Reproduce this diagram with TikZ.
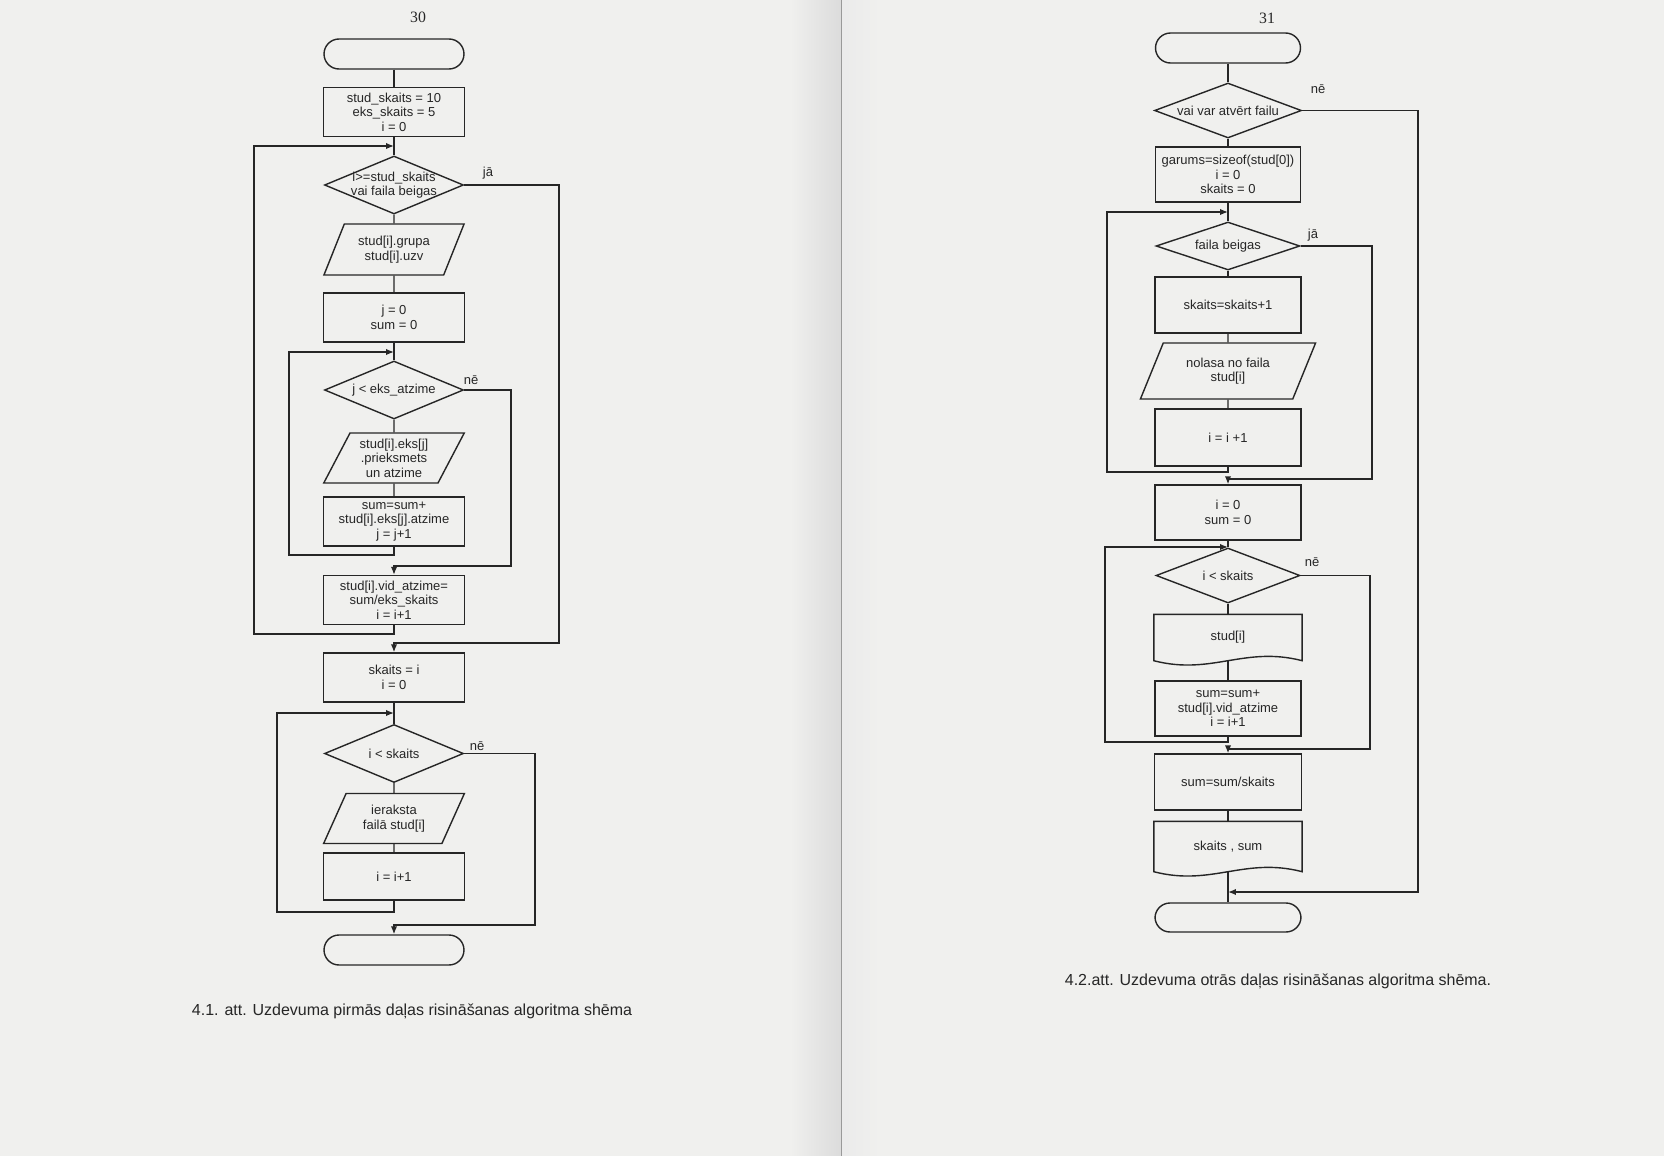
\documentclass[tikz,border=0pt]{standalone}
\usepackage{fontspec}
\setmainfont{Liberation Sans}
\newfontfamily\pagenumfont{Liberation Serif}
\usetikzlibrary{shapes.geometric,arrows.meta,positioning}
\newcommand\flowfont{\fontsize{7.4pt}{8.3pt}\selectfont}
\newcommand\capfont{\fontsize{9.1pt}{10.5pt}\selectfont}
\definecolor{paper}{RGB}{240,240,238}

\begin{document}
\begin{tikzpicture}[x=0.02cm, y=-0.02cm, line width=0.8pt, color=black!85,
  term/.style={draw, rectangle, rounded corners=0.3cm, minimum width=2.8cm, minimum height=0.6cm},
  proc/.style={draw, rectangle, minimum width=2.82cm, minimum height=0.98cm, align=center, font=\flowfont, inner sep=1pt},
  dec/.style={draw, diamond, aspect=2.4, inner sep=-1.5pt, minimum width=2.78cm, minimum height=1.16cm, align=center, font=\flowfont},
  io/.style={draw, trapezium, trapezium left angle=63, trapezium right angle=117, trapezium stretches=true, minimum width=2.82cm, minimum height=1cm, align=center, font=\flowfont, inner sep=1pt},
  docu/.style={rectangle, minimum width=2.94cm, minimum height=0.9cm, align=center, font=\flowfont},
  lbl/.style={font=\flowfont, inner sep=0pt},
  >={Latex[length=4.5pt,width=3.6pt]}]
\useasboundingbox (0,0) rectangle (1664,1156);
\fill[paper] (0,0) rectangle (1664,1156);
\shade[left color=paper, right color=black!14] (790,0) rectangle (841,1156);
\shade[left color=black!8, right color=paper] (842,0) rectangle (880,1156);
\draw[black!40, line width=0.5pt] (841.5,0) -- (841.5,1156);

% page 30
\node[font=\pagenumfont\fontsize{9pt}{10pt}\selectfont] (pg30) at (418,17) {30};
\node[term] (start) at (394,54) {};
\node[proc] (init) at (394,112) {stud\_skaits = 10\\eks\_skaits = 5\\i = 0};
\coordinate (jn1) at (394,146);
\node[dec] (cond1) at (394,185) {i>=stud\_skaits\\vai faila beigas};
\node[io, minimum height=1.02cm] (rd1) at (394,249.5) {stud[i].grupa\\stud[i].uzv};
\node[proc] (setj) at (394,317.5) {j = 0\\sum = 0};
\coordinate (jn2) at (394,352);
\node[dec] (cond2) at (394,390) {j < eks\_atzime};
\node[io] (rd2) at (394,458) {stud[i].eks[j]\\.prieksmets\\un atzime};
\node[proc] (addm) at (394,521.5) {sum=sum+\\stud[i].eks[j].atzime\\j = j+1};
\node[proc] (avg) at (394,600) {stud[i].vid\_atzime=\\sum/eks\_skaits\\i = i+1};
\node[proc] (setn) at (394,677.5) {skaits = i\\i = 0};
\coordinate (jn3) at (394,713);
\node[dec] (cond3) at (394,753.5) {i < skaits};
\node[io] (wr) at (394,818.5) {ieraksta\\failā stud[i]};
\node[proc, minimum height=0.94cm] (inc) at (394,876.5) {i = i+1};
\node[term] (stop) at (394,950) {};

\node[lbl] (ja1) at (488,173) {jā};
\node[lbl] (ne1) at (471,380) {nē};
\node[lbl] (ne2) at (477,746) {nē};

\coordinate (back1) at (254,634);
\coordinate (back2) at (289,555);
\coordinate (back3) at (277,912);
\coordinate (out1) at (559,643);
\coordinate (out2) at (511,566);
\coordinate (out3) at (535,925);

\draw (start) -- (init);
\draw (init) -- (cond1);
\draw (cond1) -- (rd1);
\draw (rd1) -- (setj);
\draw (setj) -- (cond2);
\draw (cond2) -- (rd2);
\draw (rd2) -- (addm);
\draw[->] (addm.south) |- (back2) |- (jn2);
\draw[->] (cond2.east) -| (out2) -| (avg.north);
\draw[->] (avg.south) |- (back1) |- (jn1);
\draw[->] (cond1.east) -| (out1) -| (setn.north);
\draw (setn) -- (cond3);
\draw (cond3) -- (wr);
\draw (wr) -- (inc);
\draw[->] (inc.south) |- (back3) |- (jn3);
\draw[->] (cond3.east) -| (out3) -| (stop.north);

\node[font=\capfont] (cap1) at (412,1011) {4.1. att. Uzdevuma pirmās daļas risināšanas algoritma shēma};

% page 31
\node[font=\pagenumfont\fontsize{9pt}{10pt}\selectfont] (pg31) at (1267,18) {31};
\node[term, minimum width=2.9cm] (start2) at (1228,48) {};
\node[dec, minimum width=2.94cm, minimum height=1.1cm] (open) at (1228,110.5) {vai var atvērt failu};
\node[proc, minimum width=2.9cm, minimum height=1.1cm] (init2) at (1228,174.5) {garums=sizeof(stud[0])\\i = 0\\skaits = 0};
\coordinate (jn4) at (1228,212);
\node[dec, minimum width=2.88cm, minimum height=0.96cm] (eof) at (1228,246) {faila beigas};
\node[proc, minimum width=2.92cm, minimum height=1.12cm] (cnt) at (1228,305) {skaits=skaits+1};
\node[io, minimum width=3.52cm, minimum height=1.12cm] (rdf) at (1228,371) {nolasa no faila\\stud[i]};
\node[proc, minimum width=2.92cm, minimum height=1.14cm] (inc2) at (1228,437.5) {i = i +1};
\node[proc, minimum width=2.92cm, minimum height=1.1cm] (init3) at (1228,512.5) {i = 0\\sum = 0};
\coordinate (jn5) at (1228,547);
\node[dec, minimum width=2.88cm, minimum height=1.1cm] (less) at (1228,575.5) {i < skaits};
\node[docu] (show1) at (1228,637.5) {stud[i]};
\node[proc, minimum width=2.92cm, minimum height=1.1cm] (addv) at (1228,708.5) {sum=sum+\\stud[i].vid\_atzime\\i = i+1};
\node[proc, minimum width=2.94cm, minimum height=1.12cm] (div) at (1228,782) {sum=sum/skaits};
\node[docu, minimum height=0.98cm] (show2) at (1228,846.5) {skaits , sum};
\coordinate (jn6) at (1228,892);
\node[term, minimum width=2.92cm, minimum height=0.58cm] (stop2) at (1228,917.5) {};

\draw (show1.north west) -- (show1.north east) -- (show1.south east) .. controls +(-58,-15) and +(58,15) .. (show1.south west) -- cycle;
\draw (show2.north west) -- (show2.north east) -- (show2.south east) .. controls +(-58,-15) and +(58,15) .. (show2.south west) -- cycle;

\node[lbl] (ne3) at (1318,89) {nē};
\node[lbl] (ja2) at (1313,235) {jā};
\node[lbl] (ne4) at (1312,562) {nē};

\coordinate (back4) at (1107,472);
\coordinate (back5) at (1105,742);
\coordinate (out4) at (1372,479);
\coordinate (out5) at (1370,749);
\coordinate (outA) at (1418,892);

\draw (start2) -- (open);
\draw (open) -- (init2);
\draw (init2) -- (eof);
\draw (eof) -- (cnt);
\draw (cnt) -- (rdf);
\draw (rdf) -- (inc2);
\draw[->] (inc2.south) |- (back4) |- (jn4);
\draw[->] (eof.east) -| (out4) -| (init3.north);
\draw (init3) -- (less);
\draw (less) -- (show1);
\draw (show1.south) -- (addv);
\draw[->] (addv.south) |- (back5) |- (jn5);
\draw[->] (less.east) -| (out5) -| (div.north);
\draw (div) -- (show2);
\draw (show2.south) -- (stop2);
\draw[->] (open.east) -| (outA) -- (jn6);

\node[font=\capfont] (cap2) at (1278,981) {4.2.att. Uzdevuma otrās daļas risināšanas algoritma shēma.};
\end{tikzpicture}
\end{document}
